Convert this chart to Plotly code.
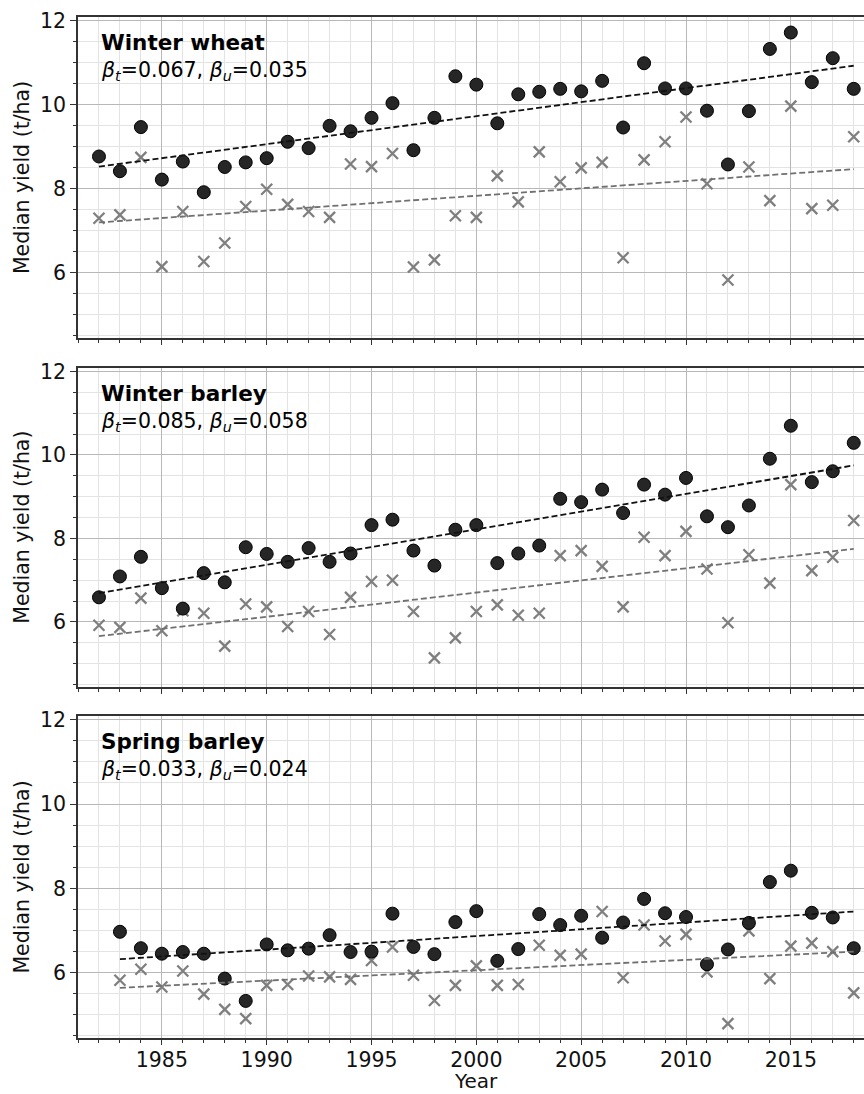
import plotly.graph_objects as go

years = list(range(1982, 2019))

crops = ["Winter wheat", "Winter barley", "Spring barley"]
beta_t = ["0.067", "0.085", "0.033"]
beta_u = ["0.035", "0.058", "0.024"]

ww_treated = [8.77, 8.42, 9.47, 8.22, 8.65, 7.92, 8.52, 8.63, 8.73, 9.12,
              8.97, 9.50, 9.37, 9.69, 10.04, 8.92, 9.69, 10.68, 10.48, 9.56,
              10.25, 10.31, 10.38, 10.32, 10.57, 9.46, 10.99, 10.39, 10.39, 9.86,
              8.58, 9.85, 11.33, 11.72, 10.54, 11.11, 10.38]
ww_untreated = [7.30, 7.38, 8.75, 6.15, 7.46, 6.27, 6.71, 7.58, 7.99, 7.63,
                7.46, 7.32, 8.59, 8.53, 8.84, 6.14, 6.31, 7.36, 7.32, 8.31,
                7.69, 8.88, 8.17, 8.50, 8.63, 6.36, 8.69, 9.12, 9.71, 8.12,
                5.83, 8.52, 7.72, 9.97, 7.53, 7.61, 9.24]

wb_treated = [6.59, 7.09, 7.56, 6.81, 6.32, 7.17, 6.95, 7.79, 7.63, 7.44,
              7.77, 7.44, 7.64, 8.32, 8.45, 7.71, 7.35, 8.21, 8.32, 7.41,
              7.64, 7.83, 8.95, 8.87, 9.17, 8.61, 9.29, 9.05, 9.45, 8.53,
              8.27, 8.79, 9.91, 10.70, 9.35, 9.61, 10.29]
wb_untreated = [5.92, 5.87, 6.57, 5.79, 6.27, 6.21, 5.42, 6.43, 6.36, 5.89,
                6.25, 5.70, 6.59, 6.97, 7.00, 6.25, 5.14, 5.62, 6.25, 6.41,
                6.16, 6.21, 7.59, 7.71, 7.33, 6.36, 8.03, 7.59, 8.17, 7.27,
                5.98, 7.61, 6.93, 9.29, 7.23, 7.55, 8.43]

sb_treated = [None, 6.97, 6.58, 6.45, 6.49, 6.45, 5.86, 5.33, 6.67, 6.53,
              6.57, 6.89, 6.49, 6.50, 7.40, 6.61, 6.44, 7.20, 7.46, 6.28,
              6.56, 7.39, 7.13, 7.35, 6.83, 7.19, 7.75, 7.41, 7.32, 6.20,
              6.55, 7.18, 8.15, 8.42, 7.42, 7.31, 6.58]
sb_untreated = [None, 5.82, 6.08, 5.66, 6.04, 5.49, 5.13, 4.91, 5.70, 5.72,
                5.92, 5.90, 5.84, 6.29, 6.61, 5.94, 5.34, 5.70, 6.16, 5.70,
                5.72, 6.65, 6.41, 6.44, 7.45, 5.88, 7.13, 6.75, 6.91, 6.02,
                4.79, 6.99, 5.86, 6.63, 6.70, 6.50, 5.52]

# trend line end points (year range and fitted values)
trend_years = [[1982, 2018], [1982, 2018], [1983, 2018]]
trend_treated = [[8.53, 10.93], [6.69, 9.75], [6.32, 7.45]]
trend_untreated = [[7.20, 8.47], [5.66, 7.75], [5.64, 6.50]]

treated = [ww_treated, wb_treated, sb_treated]
untreated = [ww_untreated, wb_untreated, sb_untreated]

FONT = "DejaVu Sans"
fig = go.Figure()

domains = [[0.6856, 1.0], [0.3441, 0.6565], [0.0, 0.3154]]

for i in range(3):
    sfx = "" if i == 0 else str(i + 1)
    xa, ya = "x" + sfx, "y" + sfx
    fig.add_trace(go.Scatter(x=years, y=untreated[i], mode="markers", xaxis=xa, yaxis=ya,
                             marker=dict(symbol="x-thin", size=11, color="#7f7f7f",
                                         line=dict(width=2.3, color="#7f7f7f")),
                             showlegend=False))
    fig.add_trace(go.Scatter(x=years, y=treated[i], mode="markers", xaxis=xa, yaxis=ya,
                             marker=dict(symbol="circle", size=13, color="#262626",
                                         line=dict(width=1, color="#000000")),
                             showlegend=False))
    fig.add_trace(go.Scatter(x=trend_years[i], y=trend_treated[i], mode="lines", xaxis=xa, yaxis=ya,
                             line=dict(color="#111111", width=1.8, dash="6px,3px"),
                             showlegend=False))
    fig.add_trace(go.Scatter(x=trend_years[i], y=trend_untreated[i], mode="lines", xaxis=xa, yaxis=ya,
                             line=dict(color="#707070", width=1.8, dash="6px,3px"),
                             showlegend=False))

    xaxis = dict(range=[1981, 2018.49], domain=[0, 1], anchor=ya,
                 tick0=1985, dtick=5, ticks="outside", ticklen=5.5, tickwidth=1.2, tickcolor="#333",
                 showline=True, linecolor="#333", linewidth=1.6, mirror=True,
                 showgrid=True, gridcolor="#b8b8b8", gridwidth=1.3, zeroline=False,
                 showticklabels=(i == 2), ticklabelstandoff=-3,
                 tickfont=dict(family=FONT, size=20.5, color="#111"),
                 minor=dict(dtick=1, tick0=1981, ticks="outside", ticklen=3.5, tickcolor="#333",
                            showgrid=True, gridcolor="#e3e3e3", gridwidth=1))
    yaxis = dict(range=[4.45, 12.09], domain=domains[i], anchor=xa,
                 tick0=0, dtick=2, ticks="outside", ticklen=6, tickwidth=1.2, tickcolor="#333",
                 showline=True, linecolor="#333", linewidth=1.6,
                 showgrid=True, gridcolor="#b8b8b8", gridwidth=1.3, zeroline=False,
                 tickfont=dict(family=FONT, size=20.5, color="#111"),
                 title=dict(text="Median yield (t/ha)", font=dict(family=FONT, size=20.5, color="#111"),
                            standoff=5),
                 minor=dict(dtick=0.5, tick0=0, ticks="outside", ticklen=3.5, tickcolor="#333",
                            showgrid=True, gridcolor="#e3e3e3", gridwidth=1))
    fig.layout["xaxis" + sfx] = xaxis
    fig.layout["yaxis" + sfx] = yaxis

    fig.add_annotation(x=1982, y=11.48, xref=xa, yref=ya, xanchor="left", yanchor="middle",
                       text="<b>" + crops[i] + "</b>", showarrow=False,
                       font=dict(family=FONT, size=21.5, color="#000"))
    fig.add_annotation(x=1982, y=10.80, xref=xa, yref=ya, xanchor="left", yanchor="middle",
                       text="<i>β</i><sub><i>t</i></sub>=" + beta_t[i] + ", <i>β</i><sub><i>u</i></sub>=" + beta_u[i],
                       showarrow=False, font=dict(family=FONT, size=20.5, color="#000"))

# x-axis title for the bottom panel
fig.add_annotation(x=2000, y=-0.0548, xref="x3", yref="paper", xanchor="center", yanchor="bottom",
                   text="Year", showarrow=False, borderpad=0,
                   font=dict(family=FONT, size=20, color="#111"))

fig.update_layout(width=864, height=1094, margin=dict(l=78, r=0, t=17, b=56, autoexpand=False),
                  plot_bgcolor="white", paper_bgcolor="white", showlegend=False)

fig.write_html("out.html")
